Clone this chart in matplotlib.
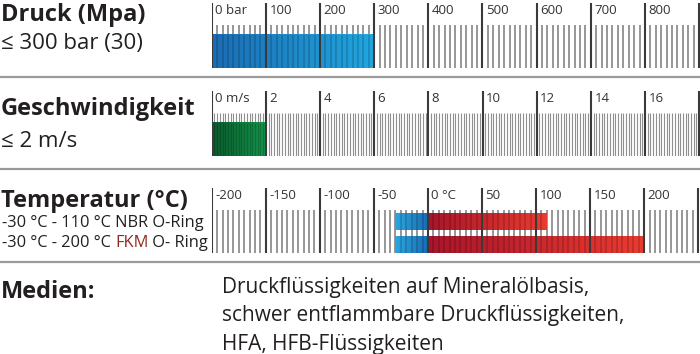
import numpy as np
import matplotlib
matplotlib.use("Agg")
import matplotlib.pyplot as plt
from matplotlib.colors import LinearSegmentedColormap

plt.rcParams['font.family'] = ['Open Sans', 'DejaVu Sans']

W, H = 700, 354

# --- data ---
druck_major = [0, 100, 200, 300, 400, 500, 600, 700, 800, 900]
druck_labels = ["0 bar", "100", "200", "300", "400", "500", "600", "700", "800", ""]
druck_max = 300

speed_major = [0, 2, 4, 6, 8, 10, 12, 14, 16, 18]
speed_labels = ["0 m/s", "2", "4", "6", "8", "10", "12", "14", "16", ""]
speed_max = 2

temp_major = [-200, -150, -100, -50, 0, 50, 100, 150, 200, 250]
temp_labels = ["-200", "-150", "-100", "-50", "0 °C", "50", "100", "150", "200", ""]
temp_min = -30
nbr_max = 110
fkm_max = 200

medien = ["Druckflüssigkeiten auf Mineralölbasis,",
          "schwer entflammbare Druckflüssigkeiten,",
          "HFA, HFB-Flüssigkeiten"]

fig = plt.figure(figsize=(W / 100, H / 100), dpi=100)


def px(x, y):
    return x / W, 1 - y / H


def scale_axes(top, bottom, xlim):
    left = 211.7
    ax = fig.add_axes([left / W, 1 - bottom / H, (W - left) / W, (bottom - top) / H])
    ax.set_xlim(*xlim)
    ax.set_ylim(0, 1)
    ax.axis("off")
    return ax


def gradient(ax, x0, x1, y0, y1, c0, c1, z=1):
    cmap = LinearSegmentedColormap.from_list("g", [c0, c1])
    ax.imshow(np.linspace(0, 1, 256).reshape(1, -1), cmap=cmap, aspect="auto",
              extent=(x0, x1, y0, y1), zorder=z, interpolation="bilinear")


def draw_scale(ax, majors, labels, step, minor_h, minor_c, minor_lw, bars):
    lo, hi = ax.get_xlim()
    minors = np.arange(majors[0], hi, step)
    minors = [m for m in minors if min(abs(m - j) for j in majors) > step / 3]
    ax.vlines(minors, 0, minor_h, colors=minor_c, lw=minor_lw, zorder=0)
    for (x0, x1, y0, y1, c0, c1) in bars:
        gradient(ax, x0, x1, y0, y1, c0, c1)
        inside = [m for m in minors if x0 < m < x1]
        ax.vlines(inside, y0, min(y1, minor_h), colors="k", alpha=0.18, lw=minor_lw, zorder=2)
    ax.vlines(majors, 0, 1, colors="#3a3a3a", lw=1.5, zorder=3)
    for m, lab in zip(majors, labels):
        ax.annotate(lab, (m, 0.88), xytext=(2.5, 0), textcoords="offset points",
                    va="center", ha="left", fontsize=9.5, color="#333333")
    ax.set_xlim(lo, hi)
    ax.set_ylim(0, 1)


# pressure
ax1 = scale_axes(3, 68, (0, 901.6))
draw_scale(ax1, druck_major, druck_labels, 10, 0.66, "#858585", 1.2,
           [(0, druck_max, 0, 0.51, "#1b6cb3", "#21a7e0")])

# speed
ax2 = scale_axes(91, 156, (0, 18.03))
draw_scale(ax2, speed_major, speed_labels, 0.1, 0.66, "#8f8f8f", 0.8,
           [(0, speed_max, 0, 0.51, "#0a5a2c", "#14954b")])

# temperature
ax3 = scale_axes(188, 253, (-200, 251.7))
draw_scale(ax3, temp_major, temp_labels, 5, 0.66, "#858585", 1.2,
           [(temp_min, 0, 0.354, 0.615, "#2aa8e2", "#1b6cb2"),
            (0, nbr_max, 0.354, 0.615, "#a8152b", "#ea3b30"),
            (temp_min, 0, 0, 0.26, "#2aa8e2", "#1b6cb2"),
            (0, fkm_max, 0, 0.26, "#a8152b", "#ea3b30")])

# separators
for y in [77, 169, 262]:
    fig.add_artist(plt.Line2D([0, 1], [1 - y / H] * 2, color="#9a9a9a", lw=1.6))

# left labels
head = dict(fontsize=17, fontweight="bold", color="#231f20", va="baseline", ha="left")
reg = dict(fontsize=16, color="#231f20", va="baseline", ha="left")
small = dict(fontsize=11.8, color="#231f20", va="baseline", ha="left")
med = dict(fontsize=15, color="#231f20", va="baseline", ha="left")

fig.text(*px(1, 21), "Druck (Mpa)", **head)
fig.text(*px(1, 49), "≤ 300 bar (30)", **reg)
fig.text(*px(1, 115), "Geschwindigkeit", **head)
fig.text(*px(1, 147), "≤ 2 m/s", **reg)
fig.text(*px(1, 207), "Temperatur (°C)", **head)
fig.text(*px(2, 227), "-30 °C - 110 °C NBR O-Ring", **small)
t = fig.text(*px(2, 247), "-30 °C - 200 °C ", **small)
fig.canvas.draw()
bb = t.get_window_extent()
t2 = fig.text(bb.x1 / W, 1 - 247 / H, "FKM", **dict(small, color="#8e2a1c"))
bb2 = t2.get_window_extent()
fig.text(bb2.x1 / W, 1 - 247 / H, " O- Ring", **small)

fig.text(*px(1, 298), "Medien:", **head)
for i, line in enumerate(medien):
    fig.text(*px(222, 293 + 28.5 * i), line, **med)

fig.savefig("out.png", dpi=100)
